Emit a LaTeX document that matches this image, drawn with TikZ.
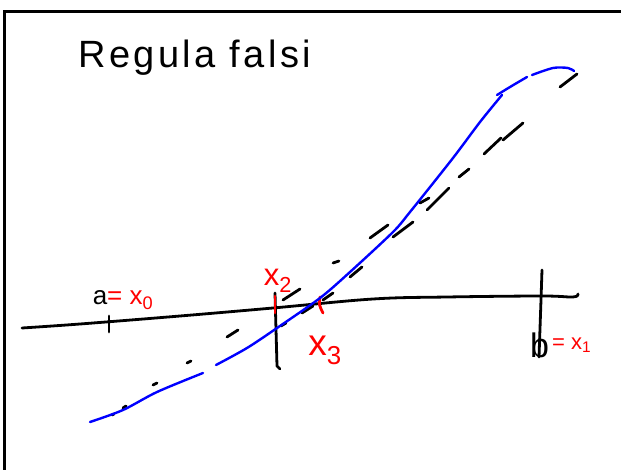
\documentclass[tikz,border=0pt]{standalone}
\usepackage{fontspec}
\setmainfont{Liberation Sans}
\newfontfamily\titlefont[LetterSpace=9]{Liberation Sans}
\begin{document}
\begin{tikzpicture}[x=1pt,y=-1pt,
  ink/.style={line width=2.8pt, black, line cap=round, line join=round},
  fcurve/.style={line width=2.4pt, blue, line cap=round, line join=round},
  redtick/.style={line width=2.8pt, red, line cap=round},
  lbl/.style={inner sep=0pt, anchor=base}]
\useasboundingbox (0,0) rectangle (621,470);
\fill[white] (0,0) rectangle (621,470);
% frame
\draw[line width=3pt] (4,470) -- (4,12) -- (621,12);
% title
\node[inner sep=0pt, anchor=base west] (title) at (78,68) {\titlefont\fontsize{38}{44}\selectfont Regula falsi};
% axis
\draw[ink] plot[smooth, tension=0.6] coordinates {(22,328) (80,324) (180,316) (273,308) (373,299) (447,297) (542,296) (573,297) (578,294)};
% tick at a
\draw[ink] (109,316) -- (109,332);
% vertical at x2
\draw[ink] (275,293) -- (277,366) -- (280,369);
\draw[redtick] (275,296) -- (275,313);
% tick at x3
\draw[redtick] (320,297) .. controls (319,305) .. (323,313);
% vertical at b
\draw[ink] (542,270) -- (541,300) -- (539,357);
% secant 1 (dashed)
\foreach \p/\q in {{(112,415)}/{(114,414)}, {(123,408)}/{(126,406)}, {(153,385)}/{(157,383)},
  {(187,363)}/{(191,361)}, {(227,337)}/{(238,330)}, {(283,300)}/{(300,289)},
  {(333,263)}/{(339,261)}, {(370,238)}/{(388,225)}, {(420,203)}/{(429,198)},
  {(459,177)}/{(469,169)}, {(560,87)}/{(577,74)}}
  \draw[ink] \p -- \q;
% secant 2 (dashed)
\foreach \p/\q in {{(281,326)}/{(286,323)}, {(302,313)}/{(313,306)}, {(323,300)}/{(333,293)},
  {(350,277)}/{(362,267)}, {(393,237)}/{(413,222)}, {(427,210)}/{(449,188)},
  {(484,154)}/{(501,138)}, {(503,140)}/{(523,123)}}
  \draw[ink] \p -- \q;
% function curve
\draw[fcurve] plot[smooth] coordinates {(90,422) (123,410) (157,392) (203,373)};
\draw[fcurve] plot[smooth] coordinates {(216,365) (247,348) (277,328) (320,298) (350,272) (393,232) (410,212) (453,158) (480,122) (502,95)};
\draw[fcurve] plot[smooth] coordinates {(497,95) (510,87) (527,77)};
\draw[fcurve] plot[smooth] coordinates {(532,75) (553,68) (568,68) (574,71)};
% labels
\node[lbl] (la) at (123,305) {\fontsize{26}{30}\selectfont a\textcolor{red}{= x\textsubscript{0}}};
\node[lbl] (lx2) at (278,286) {\fontsize{31}{34}\selectfont\color{red} x\textsubscript{2}};
\node[lbl] (lx3) at (325,355) {\fontsize{37}{40}\selectfont\color{red} x\textsubscript{3}};
\node[lbl, anchor=base west] (lb) at (530,357) {\fontsize{34}{38}\selectfont b};
\node[lbl, anchor=base west] (lx1) at (552,349) {\fontsize{22}{26}\selectfont\color{red} = x\textsubscript{1}};
\end{tikzpicture}
\end{document}
